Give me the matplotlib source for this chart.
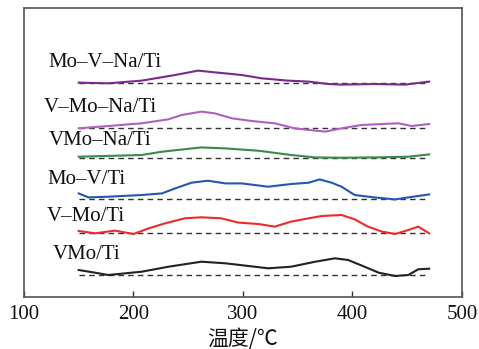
import matplotlib
matplotlib.use("Agg")
import matplotlib.pyplot as plt
import numpy as np

# temperature (°C) and signal offsets (relative to each baseline)
names = ["Mo\u2013V\u2013Na/Ti", "V\u2013Mo\u2013Na/Ti", "VMo\u2013Na/Ti",
         "Mo\u2013V/Ti", "V\u2013Mo/Ti", "VMo/Ti"]
baselines = [213.7, 168.7, 139.3, 98.3, 63.7, 22.0]
colors = ["#7a2a8a", "#b060c0", "#3a8a48", "#2458b0", "#ee2a2a", "#222222"]

t_movna = [150, 177, 207.5, 238, 259, 274, 299, 317, 341, 360, 378, 390, 420, 448, 470]
y_movna = [0.7, 0, 2.7, 8.3, 12.7, 11, 8.3, 5, 2.7, 1.7, -0.7, -1.3, -0.7, -1.3, 1.7]

t_vmona = [150, 177, 207.5, 232, 244, 262, 274, 290, 308, 329, 347, 366, 375, 390, 408, 427, 442, 454, 470]
y_vmona = [0, 2.3, 5, 9, 13.3, 16.7, 15, 10, 7.3, 5, 0, -2.3, -3.3, 0, 3.3, 4.3, 5, 2.3, 4.3]

t_vmo_na = [150, 207.5, 226, 262, 284, 314, 344, 366, 390, 420, 451, 470]
y_vmo_na = [1, 2.7, 6, 10.3, 9.3, 7, 2.7, 0.3, 0, 0.3, 1, 3.3]

t_mov = [150, 159, 177, 207.5, 226, 238, 253, 268, 284, 299, 323, 344, 360, 370, 381, 390, 402, 420, 439, 451, 470]
y_mov = [5.3, 1.3, 2, 3.7, 5.3, 10.3, 16, 18, 15.3, 15.3, 12, 14.7, 16, 19.3, 16, 12, 3.7, 1.3, -0.7, 1.3, 4.3]

t_vmo = [150, 165, 183, 200, 214, 229, 247, 262, 280, 296, 314, 329, 344, 360, 372, 390, 402, 414, 427, 439, 451, 460, 470]
y_vmo = [2.3, 0, 2.7, -0.7, 5, 10, 15, 16, 15, 10.7, 9.3, 6.7, 11.7, 15, 17.3, 18.3, 14, 6.7, 1.7, -0.7, 3.3, 6.7, 0]

t_vmoti = [150, 165, 177, 207.5, 232, 262, 284, 305, 323, 344, 366, 384, 396, 411, 424, 439, 451, 460, 470]
y_vmoti = [5, 2.3, 0, 3.3, 8.3, 13.3, 11.7, 9, 6.7, 8.3, 13.3, 16.7, 15, 8.3, 2.3, -1, 0, 5.7, 6.3]

series_t = [t_movna, t_vmona, t_vmo_na, t_mov, t_vmo, t_vmoti]
series_y = [y_movna, y_vmona, y_vmo_na, y_mov, y_vmo, y_vmoti]

label_x = [122, 118, 123, 121, 121, 126]
label_dy = [21, 21, 17, 19, 17, 21]

fig = plt.figure(figsize=(4.79, 3.49), dpi=100)
ax = fig.add_axes([0.050, 0.149, 0.9145, 0.828])

for t, y, b, c, name, lx, ldy in zip(series_t, series_y, baselines, colors, names, label_x, label_dy):
    ax.plot([150, 470], [b, b], color="#333333", lw=1.0, dashes=(4, 3))
    ax.plot(t, np.array(y) + b, color=c, lw=1.5)
    ax.text(lx, b + ldy, name, fontsize=15, family=["Liberation Serif"],
            ha="left", va="center", color="#111111")

ax.set_xlim(100, 500)
ax.set_ylim(0, 289)
ax.set_yticks([])
ax.set_xticks([100, 200, 300, 400, 500])
ax.tick_params(axis="x", direction="in", length=4, width=1.0, labelsize=15, colors="#333333",
               labelcolor="#111111", pad=6)
for lab in ax.get_xticklabels():
    lab.set_family("Liberation Serif")
for s in ax.spines.values():
    s.set_color("#555555")
    s.set_linewidth(1.2)
ax.set_xlabel("温度/℃", fontsize=15, family=["Noto Sans CJK SC", "DejaVu Sans"], labelpad=3,
              color="#111111")

fig.savefig("out.png", dpi=100)
